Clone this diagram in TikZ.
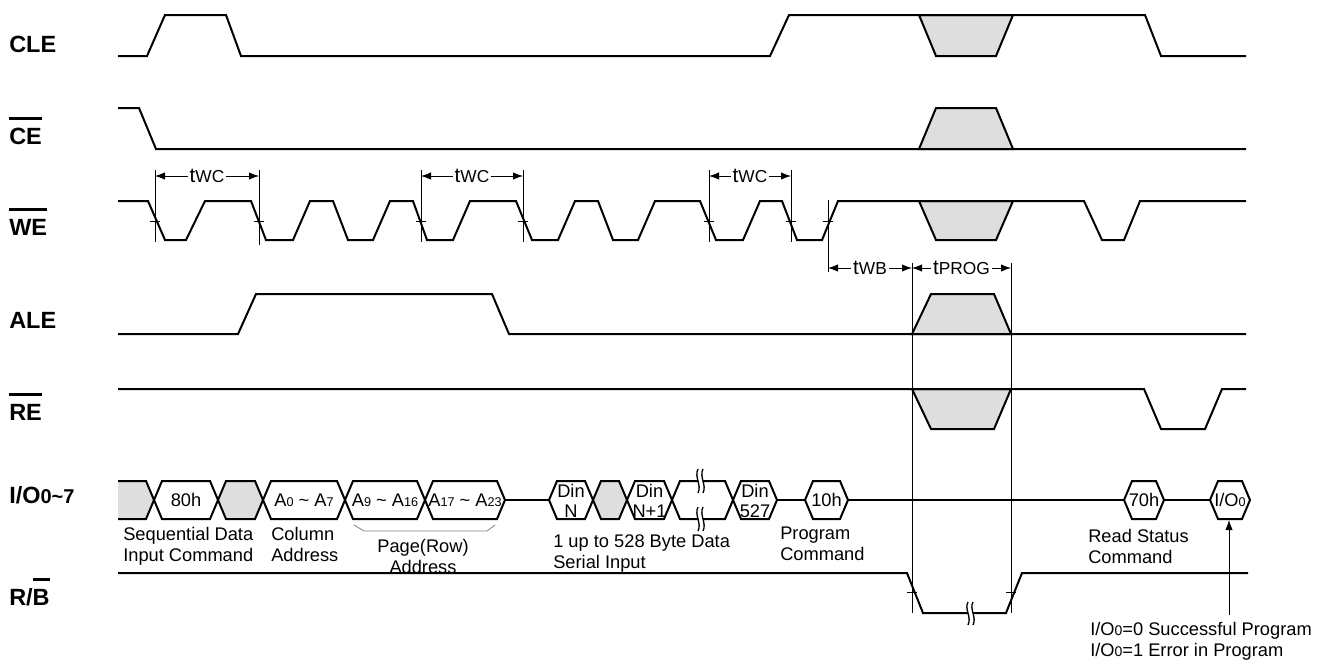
\documentclass[tikz,border=0pt]{standalone}
\usepackage{fontspec}
\setmainfont{Liberation Sans}
\usetikzlibrary{arrows.meta}

\newcommand\lblfont{\fontsize{17.6}{20}\selectfont\bfseries}
\newcommand\txtfont{\fontsize{13.7}{15.8}\selectfont}
\newcommand\dimfont{\fontsize{15.5}{17}\selectfont}
\newcommand\dsub[1]{{\fontsize{13}{14}\selectfont #1}}
\newcommand\ssub[1]{{\fontsize{10.5}{12}\selectfont #1}}
\newcommand\asub[1]{{\fontsize{9.5}{10}\selectfont #1}}
\newcommand\lsub[1]{{\fontsize{15}{16}\selectfont #1}}
\newcommand\ovl[1]{\leavevmode\vbox{\hrule height 2.2pt\kern 6pt\hbox{#1}}}
% one bus slot from #1 to #2
\newcommand\busbox[3]{\draw[sig, fill=#3] (#1,500) -- (#1+8,481) -- (#2-8,481)
  -- (#2,500) -- (#2-8,519) -- (#1+8,519) -- cycle;}

\begin{document}
\begin{tikzpicture}[x=0.75pt, y=-0.75pt,
    sig/.style={line width=1.5pt, line join=miter},
    shade/.style={sig, fill=black!13},
    guide/.style={line width=0.6pt},
    dim/.style={guide, {Latex[length=7.5pt,width=5.5pt]}-{Latex[length=7.5pt,width=5.5pt]}},
    dimlbl/.style={fill=white, inner sep=1.5pt, font=\dimfont},
    lbl/.style={anchor=base west, inner sep=0pt, font=\lblfont},
    txt/.style={anchor=north west, inner sep=0pt, align=left, font=\txtfont},
    buslbl/.style={inner sep=0pt, align=center, font=\fontsize{13.7}{15.5}\selectfont}]
\useasboundingbox (0,0) rectangle (1334,661);

% signal names
\path (9,52.5) node[lbl] (lcle) {CLE};
\path (9,144) node[lbl] (lce) {\ovl{CE}};
\path (9,235) node[lbl] (lwe) {\ovl{WE}};
\path (9,328) node[lbl] (lale) {ALE};
\path (9,420) node[lbl] (lre) {\ovl{RE}};
\path (9,503) node[lbl] (lio) {I/O\lsub{0\textasciitilde7}};
\path (9,605) node[lbl] (lrb) {R/\ovl{B}};

% CLE
\draw[shade] (919,15) -- (1013,15) -- (996,56) -- (936,56) -- cycle;
\draw[sig] (118,56) -- (147,56) -- (165,15) -- (226,15) -- (241,56)
  -- (770,56) -- (789,15) -- (1145,15) -- (1161,56) -- (1246,56);

% CE
\draw[shade] (919,149) -- (936,108) -- (996,108) -- (1013,149) -- cycle;
\draw[sig] (118,108) -- (139,108) -- (156,149) -- (1246,149);

% WE
\draw[shade] (919,201) -- (1013,201) -- (996,240) -- (936,240) -- cycle;
\draw[sig] (118,201) -- (148,201) -- (165,240) -- (186,240) -- (205,201)
  -- (251,201) -- (266,240) -- (293,240) -- (310,201)
  -- (333,201) -- (348,240) -- (373,240) -- (390,201)
  -- (413,201) -- (427,240) -- (453,240) -- (470,201)
  -- (516,201) -- (532,240) -- (558,240) -- (575,201)
  -- (598,201) -- (613,240) -- (638,240) -- (655,201)
  -- (700,201) -- (716,240) -- (743,240) -- (760,201)
  -- (782,201) -- (797,240) -- (822,240) -- (838,201)
  -- (1084,201) -- (1102,240) -- (1124,240) -- (1140,201) -- (1246,201);

% ALE
\draw[shade] (912,334) -- (931,294) -- (994,294) -- (1011,334) -- cycle;
\draw[sig] (118,334) -- (238,334) -- (256,294) -- (492,294) -- (509,334)
  -- (1246,334);

% RE
\draw[shade] (912,389) -- (1011,389) -- (994,429) -- (931,429) -- cycle;
\draw[sig] (118,389) -- (1144,389) -- (1161,429) -- (1205,429) -- (1222,389)
  -- (1246,389);

% R/B
\draw[sig] (118,573) -- (907,573) -- (923,613) -- (1006,613) -- (1022,573)
  -- (1248,573);
\fill[white] (968,609) rectangle (973,617);
\draw[sig, line width=1pt] (968,602) .. controls (964,609) and (972,617) .. (968,625);
\draw[sig, line width=1pt] (973,602) .. controls (969,609) and (977,617) .. (973,625);

% I/O bus
\fill[black!13] (118,481) -- (146,481) -- (154,500) -- (146,519) -- (118,519) -- cycle;
\draw[sig] (118,481) -- (146,481) -- (154,500) -- (146,519) -- (118,519);
\busbox{154}{218}{white}
\busbox{218}{263}{black!13}
\busbox{263}{345}{white}
\busbox{345}{425}{white}
\busbox{425}{505}{white}
\draw[sig] (505,500) -- (549,500);
\busbox{549}{593}{white}
\busbox{593}{627}{black!13}
\busbox{627}{672}{white}
\busbox{672}{733}{white}
\busbox{733}{777}{white}
\draw[sig] (777,500) -- (805,500);
\busbox{805}{848}{white}
\draw[sig] (848,500) -- (1124,500);
\busbox{1124}{1164}{white}
\draw[sig] (1164,500) -- (1210,500);
\busbox{1210}{1250}{white}

% breaks in the long slot
\fill[white] (698,477) rectangle (703,485);
\fill[white] (698,515) rectangle (703,523);
\draw[sig, line width=1pt] (698,469) .. controls (694,477) and (702,485) .. (698,493);
\draw[sig, line width=1pt] (703,469) .. controls (699,477) and (707,485) .. (703,493);
\draw[sig, line width=1pt] (698,507) .. controls (694,515) and (702,523) .. (698,531);
\draw[sig, line width=1pt] (703,507) .. controls (699,515) and (707,523) .. (703,531);

\path (186,500) node[buslbl] (b80) {80h};
\path (304,500) node[buslbl] (ba0) {A\asub{0} \textasciitilde{} A\asub{7}};
\path (385,500) node[buslbl] (ba9) {A\asub{9} \textasciitilde{} A\asub{16}};
\path (465,500) node[buslbl] (ba17) {A\asub{17} \textasciitilde{} A\asub{23}};
\path (571,501) node[buslbl] (bdn) {Din\\N};
\path (649.5,501) node[buslbl] (bdn1) {Din\\N+1};
\path (755,501) node[buslbl] (bd527) {Din\\527};
\path (826.5,500) node[buslbl] (b10) {10h};
\path (1144,500) node[buslbl] (b70) {70h};
\path (1230,500) node[buslbl] (bio0) {I/O\asub{0}};

% bracket under the row address
\draw[guide, gray] (354,525) -- (364,531) -- (487,531) -- (495,525);

% texts under the bus
\path (123,527) node[txt] (tseq) {Sequential Data\\Input Command};
\path (271,527) node[txt] (tcol) {Column\\Address};
\path (423,539) node[txt, anchor=north, align=center] (tpage) {Page(Row)\\Address};
\path (553,534) node[txt] (tdata) {1 up to 528 Byte Data\\Serial Input};
\path (780,527) node[txt] (tprg) {Program\\Command};
\path (1088,529) node[txt] (tread) {Read Status\\Command};
\path (1090,622) node[txt] (tstat)
  {I/O\ssub{0}=0 Successful Program\\I/O\ssub{0}=1 Error in Program};

% status bit arrow
\coordinate (iobot) at (1229,520);
\coordinate (notetop) at (1229,615);
\draw[guide, -{Latex[length=7.5pt,width=5.5pt]}] (notetop) -- (iobot);

% write cycle markers
\draw[guide] (155,170) -- (155,242);
\draw[guide] (259,170) -- (259,245);
\draw[guide] (421,170) -- (421,242);
\draw[guide] (523,170) -- (523,242);
\draw[guide] (709,170) -- (709,242);
\draw[guide] (791,170) -- (791,242);
\draw[guide] (828,200) -- (828,272);
\draw[guide] (150,221) -- (160,221);
\draw[guide] (254,221) -- (264,221);
\draw[guide] (416,221) -- (426,221);
\draw[guide] (518,221) -- (528,221);
\draw[guide] (704,221) -- (714,221);
\draw[guide] (786,221) -- (796,221);
\draw[guide] (823,221) -- (833,221);

\draw[dim] (155,176) -- node[dimlbl] (twc1) {t\dsub{WC}} (259,176);
\draw[dim] (421,176) -- node[dimlbl] (twc2) {t\dsub{WC}} (523,176);
\draw[dim] (709,176) -- node[dimlbl] (twc3) {t\dsub{WC}} (791,176);

% busy time markers
\draw[guide] (912,263) -- (912,613);
\draw[guide] (1011,263) -- (1011,613);
\draw[guide] (907,592) -- (917,592);
\draw[guide] (1006,592) -- (1016,592);
\draw[dim] (828,268) -- node[dimlbl] (twb) {t\dsub{WB}} (912,268);
\draw[dim] (912,268) -- node[dimlbl] (tprog) {t\dsub{PROG}} (1011,268);

\end{tikzpicture}
\end{document}
